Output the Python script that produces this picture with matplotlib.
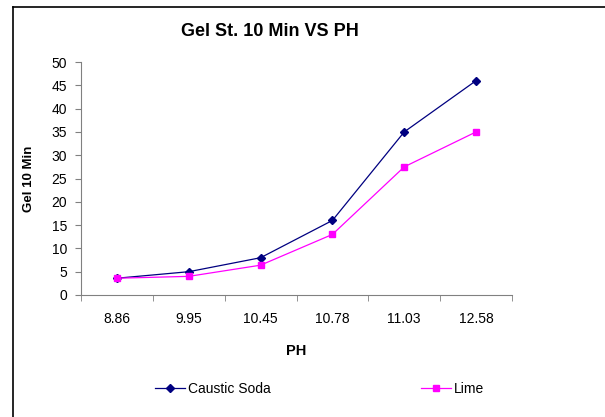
import matplotlib
matplotlib.use("Agg")
import matplotlib.pyplot as plt
from matplotlib.lines import Line2D

plt.rcParams['font.family'] = ['Liberation Sans', 'DejaVu Sans']

ph_labels = ["8.86", "9.95", "10.45", "10.78", "11.03", "12.58"]
caustic_soda = [3.6, 5, 8, 16, 35, 46]
lime = [3.6, 4, 6.4, 13, 27.5, 35]

fig = plt.figure(figsize=(6.05, 4.17), dpi=100)
ax = fig.add_axes([81 / 605, 1 - 295 / 417, (512 - 81) / 605, (295 - 62) / 417])

x = list(range(len(ph_labels)))
ax.plot(x, caustic_soda, color='#000080', marker='D', markersize=4, linewidth=0.9, label='Caustic Soda')
ax.plot(x, lime, color='#FF00FF', marker='s', markersize=5, linewidth=0.9, label='Lime')

ax.set_xlim(-0.5, len(ph_labels) - 0.5)
ax.set_ylim(0, 50)
ax.set_yticks(range(0, 51, 5))
ax.set_xticks(x)
ax.set_xticklabels(ph_labels)
ax.tick_params(axis='x', which='major', length=0, pad=12, labelsize=10)
ax.set_xticks([i - 0.5 for i in range(len(ph_labels) + 1)], minor=True)
ax.tick_params(axis='x', which='minor', length=4, direction='out', color='#808080')
ax.tick_params(axis='y', length=4, direction='out', labelsize=10, pad=6, color='#808080')

for s in ['top', 'right']:
    ax.spines[s].set_visible(False)
ax.spines['left'].set_color('#808080')
ax.spines['bottom'].set_color('#808080')

ax.set_ylabel('Gel 10 Min', fontsize=9.5, fontweight='bold', labelpad=12)
ax.set_xlabel('PH', fontsize=10.5, fontweight='bold', labelpad=13)
fig.text(270 / 605, 1 - 32 / 417, 'Gel St. 10 Min VS PH', fontsize=13, fontweight='bold',
         ha='center', va='center')

# outer chart frame (only left and top edges visible)
fig.add_artist(Line2D([13 / 605, 13 / 605], [0, 1 - 7 / 417], color='black', linewidth=1.2))
fig.add_artist(Line2D([13 / 605, 1], [1 - 7 / 417, 1 - 7 / 417], color='black', linewidth=1.2))

fig.legend(loc='center left', bbox_to_anchor=(142 / 605, 1 - 389 / 417), ncol=2, frameon=False,
           fontsize=10, handlelength=2.2, handletextpad=0.2, columnspacing=10.8)

fig.savefig('out.png', dpi=100)
